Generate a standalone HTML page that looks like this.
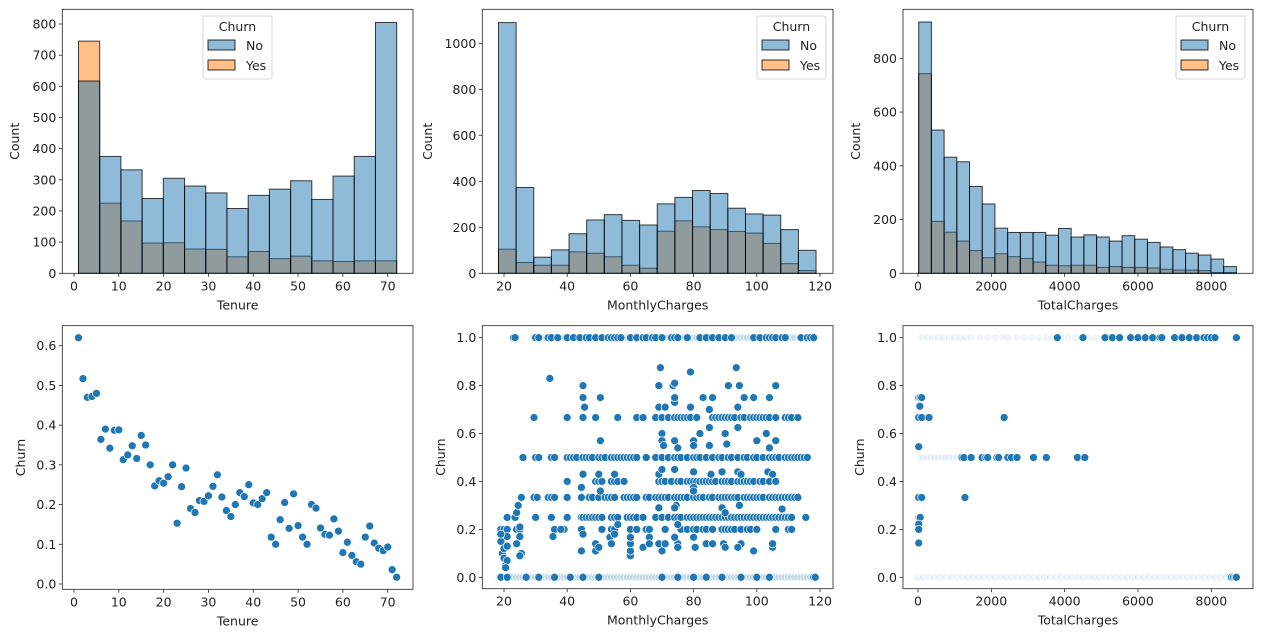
<!DOCTYPE html>
<html><head><meta charset="utf-8"><style>
html,body{margin:0;padding:0;background:#fff;}
svg{display:block;font-family:"DejaVu Sans","Liberation Sans",sans-serif;}
text{fill:#222;font-size:12.5px;}
</style></head><body>
<svg id="fig" width="1263" height="640" viewBox="0 0 1263 640" xmlns="http://www.w3.org/2000/svg"></svg>
<script>
// ---------- data ----------
const tenureNo=[617,375,332,240,305,280,258,208,250,270,297,237,312,375,805];
const tenureYes=[745,225,168,97,98,78,77,53,70,47,55,40,38,40,40];
const monthlyNo=[1090,373,70,102,172,232,255,230,210,302,330,360,347,283,258,253,190,100];
const monthlyYes=[105,47,35,35,93,87,72,35,22,183,228,202,190,182,175,130,42,12];
const totalNo=[935,533,432,415,323,258,168,152,152,152,142,167,135,143,135,120,140,127,115,98,88,75,68,53,25];
const totalYes=[743,193,153,120,85,58,73,62,55,42,30,28,30,30,22,25,22,22,20,15,12,12,10,3,3];
const tenureX=[1,2,3,4,5,6,7,8,9,10,11,12,13,14,15,16,17,18,19,20,21,22,23,24,25,26,27,28,29,30,31,32,33,34,35,36,37,38,39,40,41,42,43,44,45,46,47,48,49,50,51,52,53,54,55,56,57,58,59,60,61,62,63,64,65,66,67,68,69,70,71,72];
const tenureChurn=[.62,.517,.47,.472,.48,.364,.39,.342,.387,.388,.313,.325,.348,.316,.374,.35,.3,.247,.26,.254,.27,.3,.153,.245,.292,.19,.18,.21,.208,.222,.246,.275,.219,.185,.17,.2,.23,.22,.25,.204,.2,.215,.23,.118,.1,.162,.205,.14,.227,.147,.118,.1,.2,.191,.141,.125,.123,.164,.133,.079,.105,.072,.056,.05,.118,.146,.103,.09,.084,.093,.036,.017];
const mcAt1=[23,23.5,30,31,34,35,37,40,42,44,46,47,49,51,53,54,55,56,57,60,62,64,65,67,68,70,73,74,75,78,82,84,86,88,90,92,99,101,103,104,105,106,108,109,114,116,117,118];
const mcFaint1=[29,29.5,33,36,38,39,41,43,45,48,50,52,58,59,61,63,66,69,71,72,76,77,79,80,81,83,85,87,89,91,93,94,95,96,97,98,100,102,107,110,111,112];
const mcFaint0=[18.5,19.5,20,21.5,22,23,24,25,26,28,29,30,32,33,34,35,37,38,39,40,42,43,44,46,47,48,49,51,52,53,54,55,56,57,58,59,60,61,62,63,64,65,66,67,68,69,71,72,73,74,76,77,78,79,81,82,83,85,86,87,88,90,91,92,93,94,96,97,98,99,101,102,103,105,106,107,108,109,110,111,112,113,114,115,116,117,118];
const mcAt0=[19,21,27,31,36,41,45,50,70,75,80,84,89,95,100,104,118,118.5];
const mcAtHalf=[26,30,31,35,36,40,41,42,43,45,46,47,48,50,51,52,54,55,56,57,58,59,60,61,62,65,68,70,72,74,75,76,78,80,81,82,84,86,88,89,91,92,94,96,97,99,100,102,104,105,106,107,109,110,111,112,113,114,115,116];
const mcAtThird=[25.5,29.5,30.5,34,35,36,40,44.5,47,48,50,52,53,54,55,58,59,60,61,62,65,66,68,69,70,71,72,74,75,76,77,78,80,81,82,83,85,86,88,89,90,91,92,93,94,96,97,98,99,100,101,102,104,105,106,107,108,109,110,111,112,113];
const mcAtQuarter=[21,23.5,30,35,40,44.5,45,46,47,48,49,50,51,54,55,56,59,60,61,62,64,68,70,72,74,75,76,78,79,80,81,82,83,84,85,86,87,88,89,90,91,92,93,94,95,96,97,98,99,100,101,102,103,104,105,106,107,108,109,110,111,115.5];
const mcAtTwoThird=[29.5,40,45,49,56,62,64,68,70,72,74,75,76,77,78,79,81,86,87,88,89,90,91,92,93,95,96,98,99,100,101,102,103,104,106,109,110,111,113];
const mcAt04=[40,49,50,51,54,55,56,58,69,70,71,73,75,76,78,79,80,81,82,83,84,85,86,87,89,90,91,92,94,95,96,97,98,99,101,102,104,106];
const mcAt02=[19,20,21,24,25,36,39,44.5,51,54,55,60,62,65,66,71,76,78,80,81,83,84,86,89,90,91,92,93,95,97,98,100,106,110,111];
const mcOther=[[19,.15],[19.5,.1],[20,.12],[20,.08],[20.5,.05],[21,.17],[21,.13],[21,.07],[20.5,.04],[19,.18],[24,.27],[24.5,.3],[25,.17],[25,.21],[25.5,.1],[25,.09],[24,.14],[34.5,.83],[35.5,.17],[38,.2],[44.5,.11],[45,.8],[45,.75],[45.5,.71],[45,.18],[44.5,.375],[45,.43],[49,.11],[49,.14],[50,.125],[50,.43],[50.5,.36],[50.5,.57],[50.5,.75],[53.5,.167],[54,.14],[55,.43],[56,.22],[55,.18],[60,.09],[60,.11],[60,.14],[60,.167],[64,.125],[66,.167],[66,.14],[69,.8],[69,.71],[69.5,.875],[70,.6],[70,.57],[70.5,.55],[69,.43],[70,.45],[69,.29],[69,.14],[70,.11],[71,.71],[71,.14],[73.5,.8],[74,.81],[74,.57],[74,.73],[74,.75],[75,.54],[74,.45],[74.5,.3],[74,.29],[75,.14],[75,.125],[74,.167],[75,.22],[79,.857],[79,.71],[80,.57],[80,.55],[80,.44],[80,.375],[80,.36],[80,.167],[80.5,.125],[82,.6],[83,.75],[84,.14],[85,.625],[85,.55],[85,.7],[86,.75],[85.5,.43],[86,.14],[89,.44],[89,.29],[90,.27],[89.5,.14],[90,.125],[90,.6],[90.5,.556],[91,.8],[93.5,.875],[94,.71],[94,.625],[94.5,.8],[94,.44],[95,.43],[94.5,.3],[95,.14],[94,.125],[96,.75],[99,.75],[99,.11],[100,.57],[103,.6],[103.5,.44],[104,.75],[104,.54],[105,.43],[105,.125],[105,.14],[106,.8],[106,.57],[106,.4],[108,.285]];
const tcFaint1=[100,250,400,550,700,850,1000,1150,1300,1450,1700,1900,2100,2300,2450,2700,2900,3100,3300,3500,3650,3900,4100,4300,4450,4650,4850,5050,5250,5450,5650,5900,6100,6300,6500,6750,6950,7150,7350,7550];
const tcSolid1=[3800,4500,5100,5300,5500,5800,6000,6200,6400,6600,6650,7000,7200,7400,7600,7800,7900,8000,8100,8684];
const tcFaintHalf=[50,150,250,350,450,550,650,750,850,950,1050,1150];
const tcSolidHalf=[1200,1250,1450,1750,1850,1900,2150,2200,2450,2550,2700,3150,3500,4350,4550];
const tcOther=[[20,.75],[60,.75],[100,.75],[50,.714],[20,.667],[100,.667],[300,.667],[2350,.667],[20,.545],[20,.333],[100,.333],[1280,.333],[30,.25],[60,.25],[20,.222],[20,.2],[20,.143]];
const tcFaint0=[0,150,300,450,600,750,900,1050,1200,1350,1500,1650,1800,1950,2100,2250,2400,2550,2700,2850,3000,3150,3300,3450,3600,3750,3900,4050,4200,4350,4500,4650,4800,4950,5100,5250,5400,5550,5700,5850,6000,6150,6300,6450,6600,6750,6900,7050,7200,7350,7500,7650,7800,7950,8100,8250,8400,8500];
const tcSolid0=[8550,8600,8650,8684];

// ---------- helpers ----------
const NS="http://www.w3.org/2000/svg";
const svg=document.getElementById('fig');
function mk(tag,attrs,parent){const e=document.createElementNS(NS,tag);for(const k in attrs)e.setAttribute(k,attrs[k]);(parent||svg).appendChild(e);return e;}
function lin(d0,d1,r0,r1){return v=>r0+(v-d0)*(r1-r0)/(d1-d0);}

function axes(p,name){
  const g=mk('g',{});
  
  
  p.xt.forEach(t=>{const x=p.sx(t);
    mk('line',{x1:x,x2:x,y1:p.b,y2:p.b+3.5,stroke:'#222','stroke-width':0.8},g);
    const tx=mk('text',{x:x,y:p.b+17,'text-anchor':'middle'},g);tx.textContent=p.xfmt(t);
    
    });
  p.yt.forEach(t=>{const y=p.sy(t);
    mk('line',{x1:p.l-3.5,x2:p.l,y1:y,y2:y,stroke:'#222','stroke-width':0.8},g);
    const tx=mk('text',{x:p.l-6,y:y+4.5,'text-anchor':'end'},g);tx.textContent=p.yfmt(t);
    
    });
  const xl=mk('text',{x:(p.l+p.r)/2,y:p.b+36,'text-anchor':'middle'},g);xl.textContent=p.xlabel;
  
  
  const yl=mk('text',{x:0,y:0,'text-anchor':'middle',transform:`translate(${p.ylx},${(p.t+p.b)/2}) rotate(-90)`},g);yl.textContent=p.ylabel;
  
  
  return g;
}
function frame(p){const f=mk('rect',{x:p.l,y:p.t,width:p.r-p.l,height:p.b-p.t,fill:'none',stroke:'#222','stroke-width':0.8});
  
  }

function hist(p,lo,hi,no,yes,name){
  const g=mk('g',{});
  
  
  const n=no.length,w=(hi-lo)/n;
  [[yes,'#ff7f0e','bar-yes'],[no,'#1f77b4','bar-no']].forEach(([arr,c,nm])=>{
    arr.forEach((v,i)=>{const x0=p.sx(lo+i*w),x1=p.sx(lo+(i+1)*w),y=p.sy(v);
      const r=mk('rect',{x:x0,y:y,width:x1-x0,height:p.sy(0)-y,fill:c,'fill-opacity':0.5,stroke:'#000','stroke-opacity':0.75,'stroke-width':1},g);
      
      });
  });
}
function legend(x,y){
  const g=mk('g',{});
  
  
  mk('rect',{x:x,y:y,width:69,height:63,rx:2,fill:'#fff','fill-opacity':0.8,stroke:'#ccc','stroke-width':0.8},g);
  const t=mk('text',{x:x+34.5,y:y+15,'text-anchor':'middle'},g);t.textContent='Churn';
  
  
  [['No','#1f77b4',y+24],['Yes','#ff7f0e',y+44]].forEach(([lb,c,yy])=>{
    const e=mk('g',{},g);
    
    
    mk('rect',{x:x+5,y:yy,width:27,height:10,fill:c,'fill-opacity':0.5,stroke:'#000','stroke-opacity':0.8,'stroke-width':1},e);
    const tx=mk('text',{x:x+43,y:yy+10},e);tx.textContent=lb;});
}
function dots(p,pts,op,name){
  const g=mk('g',{});
  
  
  pts.forEach(([a,b])=>{const c=mk('circle',{cx:p.sx(a),cy:p.sy(b),r:4,fill:'#1f77b4','fill-opacity':op,stroke:'#fff','stroke-width':0.7},g);
    
    });
}
const at=(arr,y)=>arr.map(x=>[x,y]);

// ---------- panels ----------
const intF=v=>String(v), f1=v=>v.toFixed(1);
const P1={l:62.3,r:413,t:9.3,b:273.3,sx:lin(0,70,74,387.7),sy:lin(0,800,273.3,24),xt:[0,10,20,30,40,50,60,70],yt:[0,100,200,300,400,500,600,700,800],xfmt:intF,yfmt:intF,xlabel:'Tenure',ylabel:'Count',ylx:19};
const P2={l:482.3,r:833,t:9.3,b:273.3,sx:lin(20,120,504,820),sy:lin(0,1000,273.3,43.3),xt:[20,40,60,80,100,120],yt:[0,200,400,600,800,1000],xfmt:intF,yfmt:intF,xlabel:'MonthlyCharges',ylabel:'Count',ylx:432};
const P3={l:903,r:1253,t:9.3,b:273.3,sx:lin(0,8000,918,1211.3),sy:lin(0,800,273.3,58.3),xt:[0,2000,4000,6000,8000],yt:[0,200,400,600,800],xfmt:intF,yfmt:intF,xlabel:'TotalCharges',ylabel:'Count',ylx:860};
const P4={l:62.3,r:413,t:325.7,b:589.3,sx:lin(0,70,74,387.7),sy:lin(0,0.6,584,345.7),xt:[0,10,20,30,40,50,60,70],yt:[0,.1,.2,.3,.4,.5,.6],xfmt:intF,yfmt:f1,xlabel:'Tenure',ylabel:'Churn',ylx:25};
const P5={l:482.3,r:833,t:325.7,b:588.7,sx:lin(20,120,504,820),sy:lin(0,1,577.3,337.7),xt:[20,40,60,80,100,120],yt:[0,.2,.4,.6,.8,1],xfmt:intF,yfmt:f1,xlabel:'MonthlyCharges',ylabel:'Churn',ylx:445};
const P6={l:903,r:1253,t:325.7,b:588.7,sx:lin(0,8000,918,1211.3),sy:lin(0,1,577.3,337.7),xt:[0,2000,4000,6000,8000],yt:[0,.2,.4,.6,.8,1],xfmt:intF,yfmt:f1,xlabel:'TotalCharges',ylabel:'Churn',ylx:864};

hist(P1,1,72,tenureNo,tenureYes,'tenure-histogram');
hist(P2,18.25,118.75,monthlyNo,monthlyYes,'monthly-charges-histogram');
hist(P3,18.8,8684.8,totalNo,totalYes,'total-charges-histogram');

dots(P4,tenureX.map((x,i)=>[x,tenureChurn[i]]),1,'tenure-churn-points');
dots(P5,[].concat(at(mcFaint1,1),at(mcFaint0,0)),0.15,'monthly-churn-faint-points');
dots(P5,[].concat(at(mcAt1,1),at(mcAt0,0),at(mcAtHalf,.5),at(mcAtThird,1/3),at(mcAtQuarter,.25),at(mcAtTwoThird,2/3),at(mcAt04,.4),at(mcAt02,.2),mcOther),1,'monthly-churn-points');
dots(P6,[].concat(at(tcFaint1,1),at(tcFaintHalf,.5),at(tcFaint0,0)),0.07,'total-churn-faint-points');
dots(P6,[].concat(at(tcSolid1,1),at(tcSolidHalf,.5),at(tcSolid0,0),tcOther),1,'total-churn-points');

[P1,P2,P3,P4,P5,P6].forEach((p,i)=>{axes(p,'axes-'+(i+1));frame(p);});
legend(203,16);legend(757,16);legend(1176,16);
</script>
</body></html>
